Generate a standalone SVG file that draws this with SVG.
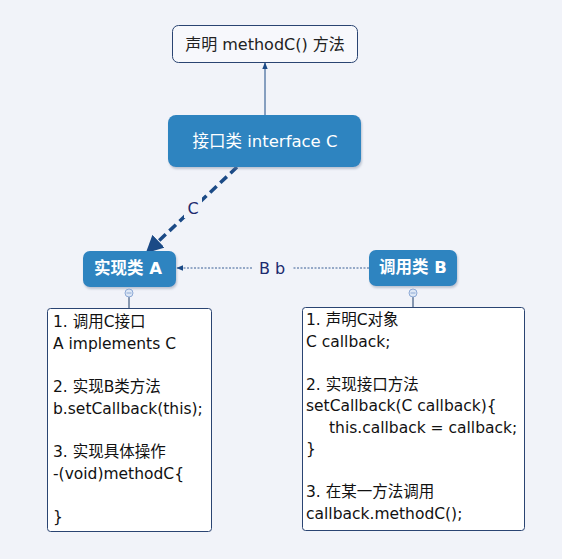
<svg xmlns="http://www.w3.org/2000/svg" width="562" height="559" viewBox="0 0 562 559">
<style>
.cjk{font-family:"DejaVu Sans","Noto Sans CJK SC",sans-serif}
.node{fill:#2e84c0}
.ntext{fill:#ffffff;font-size:16.5px;text-anchor:middle}
.bold{font-weight:bold}
.note{fill:#ffffff;stroke:#2a4472;stroke-width:1}
.ntxt{fill:#111111;font-size:15.5px}
.lbl{fill:#1c2a6e;font-size:16px;text-anchor:middle}
.fold{fill:#dde7f5;stroke:#8eaad6;stroke-width:1}
</style>
<defs>
<marker id="big" viewBox="0 0 10 10" refX="9" refY="5" markerWidth="5" markerHeight="5" orient="auto" markerUnits="strokeWidth"><path d="M0,0 L10,5 L0,10 z" fill="#1b4a86"/></marker>
<marker id="small" viewBox="0 0 10 10" refX="9" refY="5" markerWidth="7" markerHeight="7" orient="auto" markerUnits="userSpaceOnUse"><path d="M0,1 L10,5 L0,9 z" fill="#1b4a86"/></marker>
<filter id="sh" x="-10%" y="-10%" width="130%" height="140%"><feDropShadow dx="1" dy="2" stdDeviation="1.2" flood-color="#7d8aa0" flood-opacity="0.45"/></filter>
</defs>
<rect width="562" height="559" fill="#f1f3f9"/>
<g id="connectors">
<line x1="265" y1="115" x2="265" y2="63" stroke="#1b4a86" stroke-width="1" marker-end="url(#small)"/>
<line x1="237" y1="167" x2="147" y2="252" stroke="#1b4a86" stroke-width="3.5" stroke-dasharray="9,5" marker-end="url(#big)"/>
<rect x="184" y="197" width="18" height="21" fill="#f1f3f9"/>
<text class="cjk lbl" x="193" y="214">C</text>
<line x1="369" y1="268" x2="292" y2="268" stroke="#3a5f95" stroke-width="1" stroke-dasharray="2,1.5"/>
<line x1="252" y1="268" x2="177" y2="268" stroke="#3a5f95" stroke-width="1" stroke-dasharray="2,1.5" marker-end="url(#small)"/>
<text class="cjk lbl" x="272" y="274">B b</text>
<line x1="129" y1="297" x2="129" y2="308" stroke="#1b3a66" stroke-width="1"/>
<line x1="413" y1="297" x2="413" y2="307" stroke="#1b3a66" stroke-width="1"/>
</g>
<g id="top">
<rect x="172.5" y="25.5" width="185" height="37" rx="6" fill="#f7f8fc" stroke="#2a4472"/>
<text class="cjk" x="265" y="50" font-size="16" text-anchor="middle" fill="#222">声明 methodC() 方法</text>
</g>
<g id="interfaceC">
<rect class="node" x="168" y="115" width="193" height="52" rx="8" filter="url(#sh)"/>
<text class="cjk ntext" x="265" y="147">接口类 interface C</text>
</g>
<g id="classA">
<rect class="node" x="83" y="251" width="93" height="36" rx="7" filter="url(#sh)"/>
<text class="cjk ntext bold" x="128" y="274">实现类 A</text>
<circle class="fold" cx="129" cy="293" r="4"/>
<line x1="126.5" y1="293" x2="131.5" y2="293" stroke="#8eaad6" stroke-width="1"/>
</g>
<g id="classB">
<rect class="node" x="369" y="250" width="88" height="36" rx="7" filter="url(#sh)"/>
<text class="cjk ntext bold" x="413" y="273">调用类 B</text>
<circle class="fold" cx="413" cy="293" r="4"/>
<line x1="410.5" y1="293" x2="415.5" y2="293" stroke="#8eaad6" stroke-width="1"/>
</g>
<g id="noteA">
<rect class="note" x="47.5" y="308.5" width="164" height="223" rx="3"/>
<text class="cjk ntxt" x="53">
<tspan x="53" y="327">1. 调用C接口</tspan>
<tspan x="53" y="348.7">A implements C</tspan>
<tspan x="53" y="392.1">2. 实现B类方法</tspan>
<tspan x="53" y="413.8">b.setCallback(this);</tspan>
<tspan x="53" y="457.2">3. 实现具体操作</tspan>
<tspan x="53" y="478.9">-(void)methodC{</tspan>
<tspan x="53" y="522.3">}</tspan>
</text>
</g>
<g id="noteB">
<rect class="note" x="302.5" y="307.5" width="222" height="223" rx="3"/>
<text class="cjk ntxt" x="306">
<tspan x="306" y="325">1. 声明C对象</tspan>
<tspan x="306" y="346.5">C callback;</tspan>
<tspan x="306" y="389.5">2. 实现接口方法</tspan>
<tspan x="306" y="411">setCallback(C callback){</tspan>
<tspan x="329" y="432.5">this.callback = callback;</tspan>
<tspan x="306" y="454">}</tspan>
<tspan x="306" y="497">3. 在某一方法调用</tspan>
<tspan x="306" y="518.5">callback.methodC();</tspan>
</text>
</g>
</svg>
